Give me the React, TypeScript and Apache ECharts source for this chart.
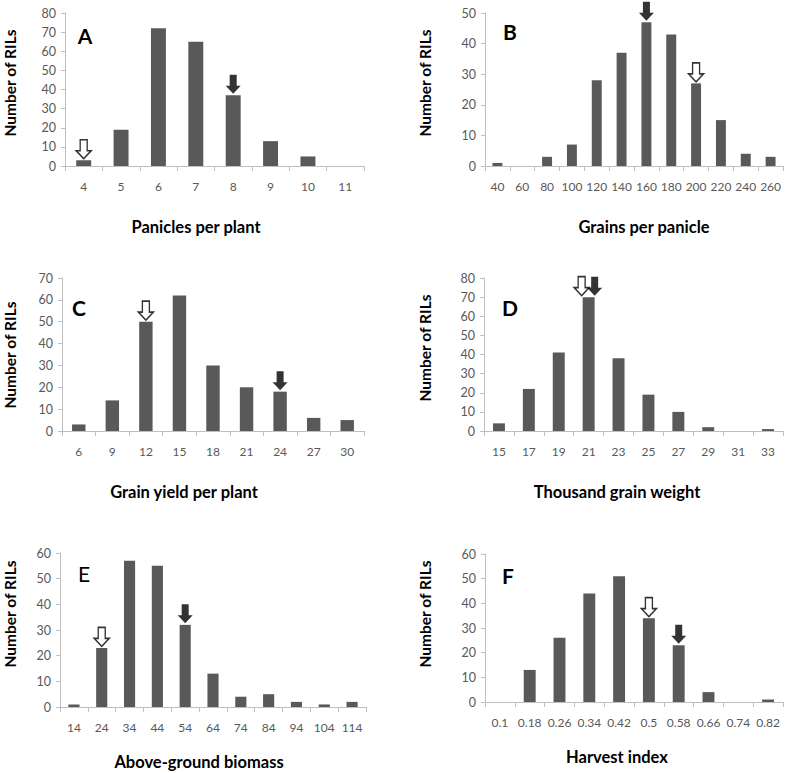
import React, { useEffect, useRef } from "react";
import * as echarts from "echarts";

// ---- data ----
const catsA = ["4", "5", "6", "7", "8", "9", "10", "11"];
const valsA = [3, 19, 72, 65, 37, 13, 5, 0];
const openA = ["4"];
const filledA = ["8"];

const catsB = ["40", "60", "80", "100", "120", "140", "160", "180", "200", "220", "240", "260"];
const valsB = [1, 0, 3, 7, 28, 37, 47, 43, 27, 15, 4, 3];
const openB = ["200"];
const filledB = ["160"];

const catsC = ["6", "9", "12", "15", "18", "21", "24", "27", "30"];
const valsC = [3, 14, 50, 62, 30, 20, 18, 6, 5];
const openC = ["12"];
const filledC = ["24"];

const catsD = ["15", "17", "19", "21", "23", "25", "27", "29", "31", "33"];
const valsD = [4, 22, 41, 70, 38, 19, 10, 2, 0, 1];
const openD = ["21"];
const filledD = ["21"];

const catsE = ["14", "24", "34", "44", "54", "64", "74", "84", "94", "104", "114"];
const valsE = [1, 23, 57, 55, 32, 13, 4, 5, 2, 1, 2];
const openE = ["24"];
const filledE = ["54"];

const catsF = ["0.1", "0.18", "0.26", "0.34", "0.42", "0.5", "0.58", "0.66", "0.74", "0.82"];
const valsF = [0, 13, 26, 44, 51, 34, 23, 4, 0, 1];
const openF = ["0.5"];
const filledF = ["0.58"];

const yMaxes = [80, 50, 70, 80, 60, 60];
const letters = ["A", "B", "C", "D", "E", "F"];
const xTitles = [
  "Panicles per plant",
  "Grains per panicle",
  "Grain yield per plant",
  "Thousand grain weight",
  "Above-ground biomass",
  "Harvest index",
];
const yTitle = "Number of RILs";

// ---- layout ----
const grids = [
  { left: 65, top: 13, width: 299, height: 153 },
  { left: 485, top: 13, width: 298, height: 153 },
  { left: 62, top: 278, width: 302, height: 153 },
  { left: 484, top: 278, width: 299, height: 153 },
  { left: 60, top: 553, width: 306, height: 154 },
  { left: 485, top: 554, width: 298, height: 148 },
];
const letterPos = [
  [85, 35], [510, 31], [79, 307], [510, 307], [84, 573], [508, 575],
];
const letterBold = [true, true, true, true, false, true];
const xTitlePos = [
  [196, 227], [644, 227], [184, 492], [617, 492], [199, 762], [617, 757],
];
const yTitlePos = [
  [10, 83], [425, 83], [10, 355], [425, 348], [10, 614], [425, 614],
];
const openOffset = [0, 0, 0, -7, 0, 0];
const filledOffset = [0, 0, 0, 6, 0, 0];

const FONT = "Lato";
const AXIS_COLOR = "#bfbfbf";
const LABEL_COLOR = "#595959";
const ARROW = "path://M4,0L11,0L11,11L15,11L7.5,19L0,11L4,11Z";

const panels = [
  { cats: catsA, vals: valsA, open: openA, filled: filledA },
  { cats: catsB, vals: valsB, open: openB, filled: filledB },
  { cats: catsC, vals: valsC, open: openC, filled: filledC },
  { cats: catsD, vals: valsD, open: openD, filled: filledD },
  { cats: catsE, vals: valsE, open: openE, filled: filledE },
  { cats: catsF, vals: valsF, open: openF, filled: filledF },
];

export default function App() {
  const ref = useRef<HTMLDivElement>(null);
  useEffect(() => {
    if (!ref.current) return;
    const chart = echarts.init(ref.current, undefined, { renderer: "svg" });
    const xAxis: any[] = [];
    const yAxis: any[] = [];
    const series: any[] = [];
    const graphic: any[] = [];
    panels.forEach((p, i) => {
      xAxis.push({
        type: "category",
        gridIndex: i,
        data: p.cats,
        boundaryGap: true,
        axisLine: { lineStyle: { color: AXIS_COLOR, width: 1 } },
        axisTick: { show: true, length: 5, lineStyle: { color: AXIS_COLOR } },
        axisLabel: { interval: 0, margin: 14, color: LABEL_COLOR, fontSize: 12, fontFamily: FONT },
        splitLine: { show: false },
      });
      yAxis.push({
        type: "value",
        gridIndex: i,
        min: 0,
        max: yMaxes[i],
        interval: 10,
        axisLine: { show: true, lineStyle: { color: AXIS_COLOR, width: 1 } },
        axisTick: { show: true, length: 4, lineStyle: { color: AXIS_COLOR } },
        axisLabel: { margin: 9, color: LABEL_COLOR, fontSize: 12.5, fontFamily: FONT },
        splitLine: { show: false },
      });
      series.push({
        type: "bar",
        xAxisIndex: i,
        yAxisIndex: i,
        data: p.vals,
        barWidth: "40%",
        itemStyle: { color: "#595959" },
        z: 2,
      });
      const valOf = (c: string) => p.vals[p.cats.indexOf(c)];
      series.push({
        type: "scatter",
        xAxisIndex: i,
        yAxisIndex: i,
        data: p.open.map((c) => [c, valOf(c)]),
        symbol: ARROW,
        symbolSize: [15, 19],
        symbolOffset: [openOffset[i], -11],
        itemStyle: { color: "#ffffff", borderColor: "#000000", borderWidth: 1.5 },
        z: 5,
      });
      series.push({
        type: "scatter",
        xAxisIndex: i,
        yAxisIndex: i,
        data: p.filled.map((c) => [c, valOf(c)]),
        symbol: ARROW,
        symbolSize: [15, 19],
        symbolOffset: [filledOffset[i], -11],
        itemStyle: { color: "#000000" },
        z: 6,
      });
      graphic.push({
        type: "text",
        x: letterPos[i][0],
        y: letterPos[i][1],
        style: {
          text: letters[i],
          fontFamily: FONT,
          fontSize: 21,
          fontWeight: letterBold[i] ? "bold" : "normal",
          fill: "#000",
          align: "center",
          verticalAlign: "middle",
        },
      });
      graphic.push({
        type: "text",
        x: xTitlePos[i][0],
        y: xTitlePos[i][1],
        style: {
          text: xTitles[i],
          fontFamily: FONT,
          fontSize: 16.5,
          fontWeight: "bold",
          fill: "#000",
          align: "center",
          verticalAlign: "middle",
        },
      });
      graphic.push({
        type: "text",
        x: yTitlePos[i][0],
        y: yTitlePos[i][1],
        rotation: Math.PI / 2,
        style: {
          text: yTitle,
          fontFamily: FONT,
          fontSize: 15.5,
          fontWeight: "bold",
          fill: "#000",
          align: "center",
          verticalAlign: "middle",
        },
      });
    });
    chart.setOption({
      animation: false,
      backgroundColor: "#ffffff",
      textStyle: { fontFamily: FONT },
      grid: grids.map((g) => ({ ...g, containLabel: false })),
      xAxis,
      yAxis,
      series,
      graphic,
    });
    return () => chart.dispose();
  }, []);
  return (
    <div
      ref={ref}
      style={{ position: "absolute", left: 0, top: 0, width: 787, height: 773 }}
    />
  );
}
